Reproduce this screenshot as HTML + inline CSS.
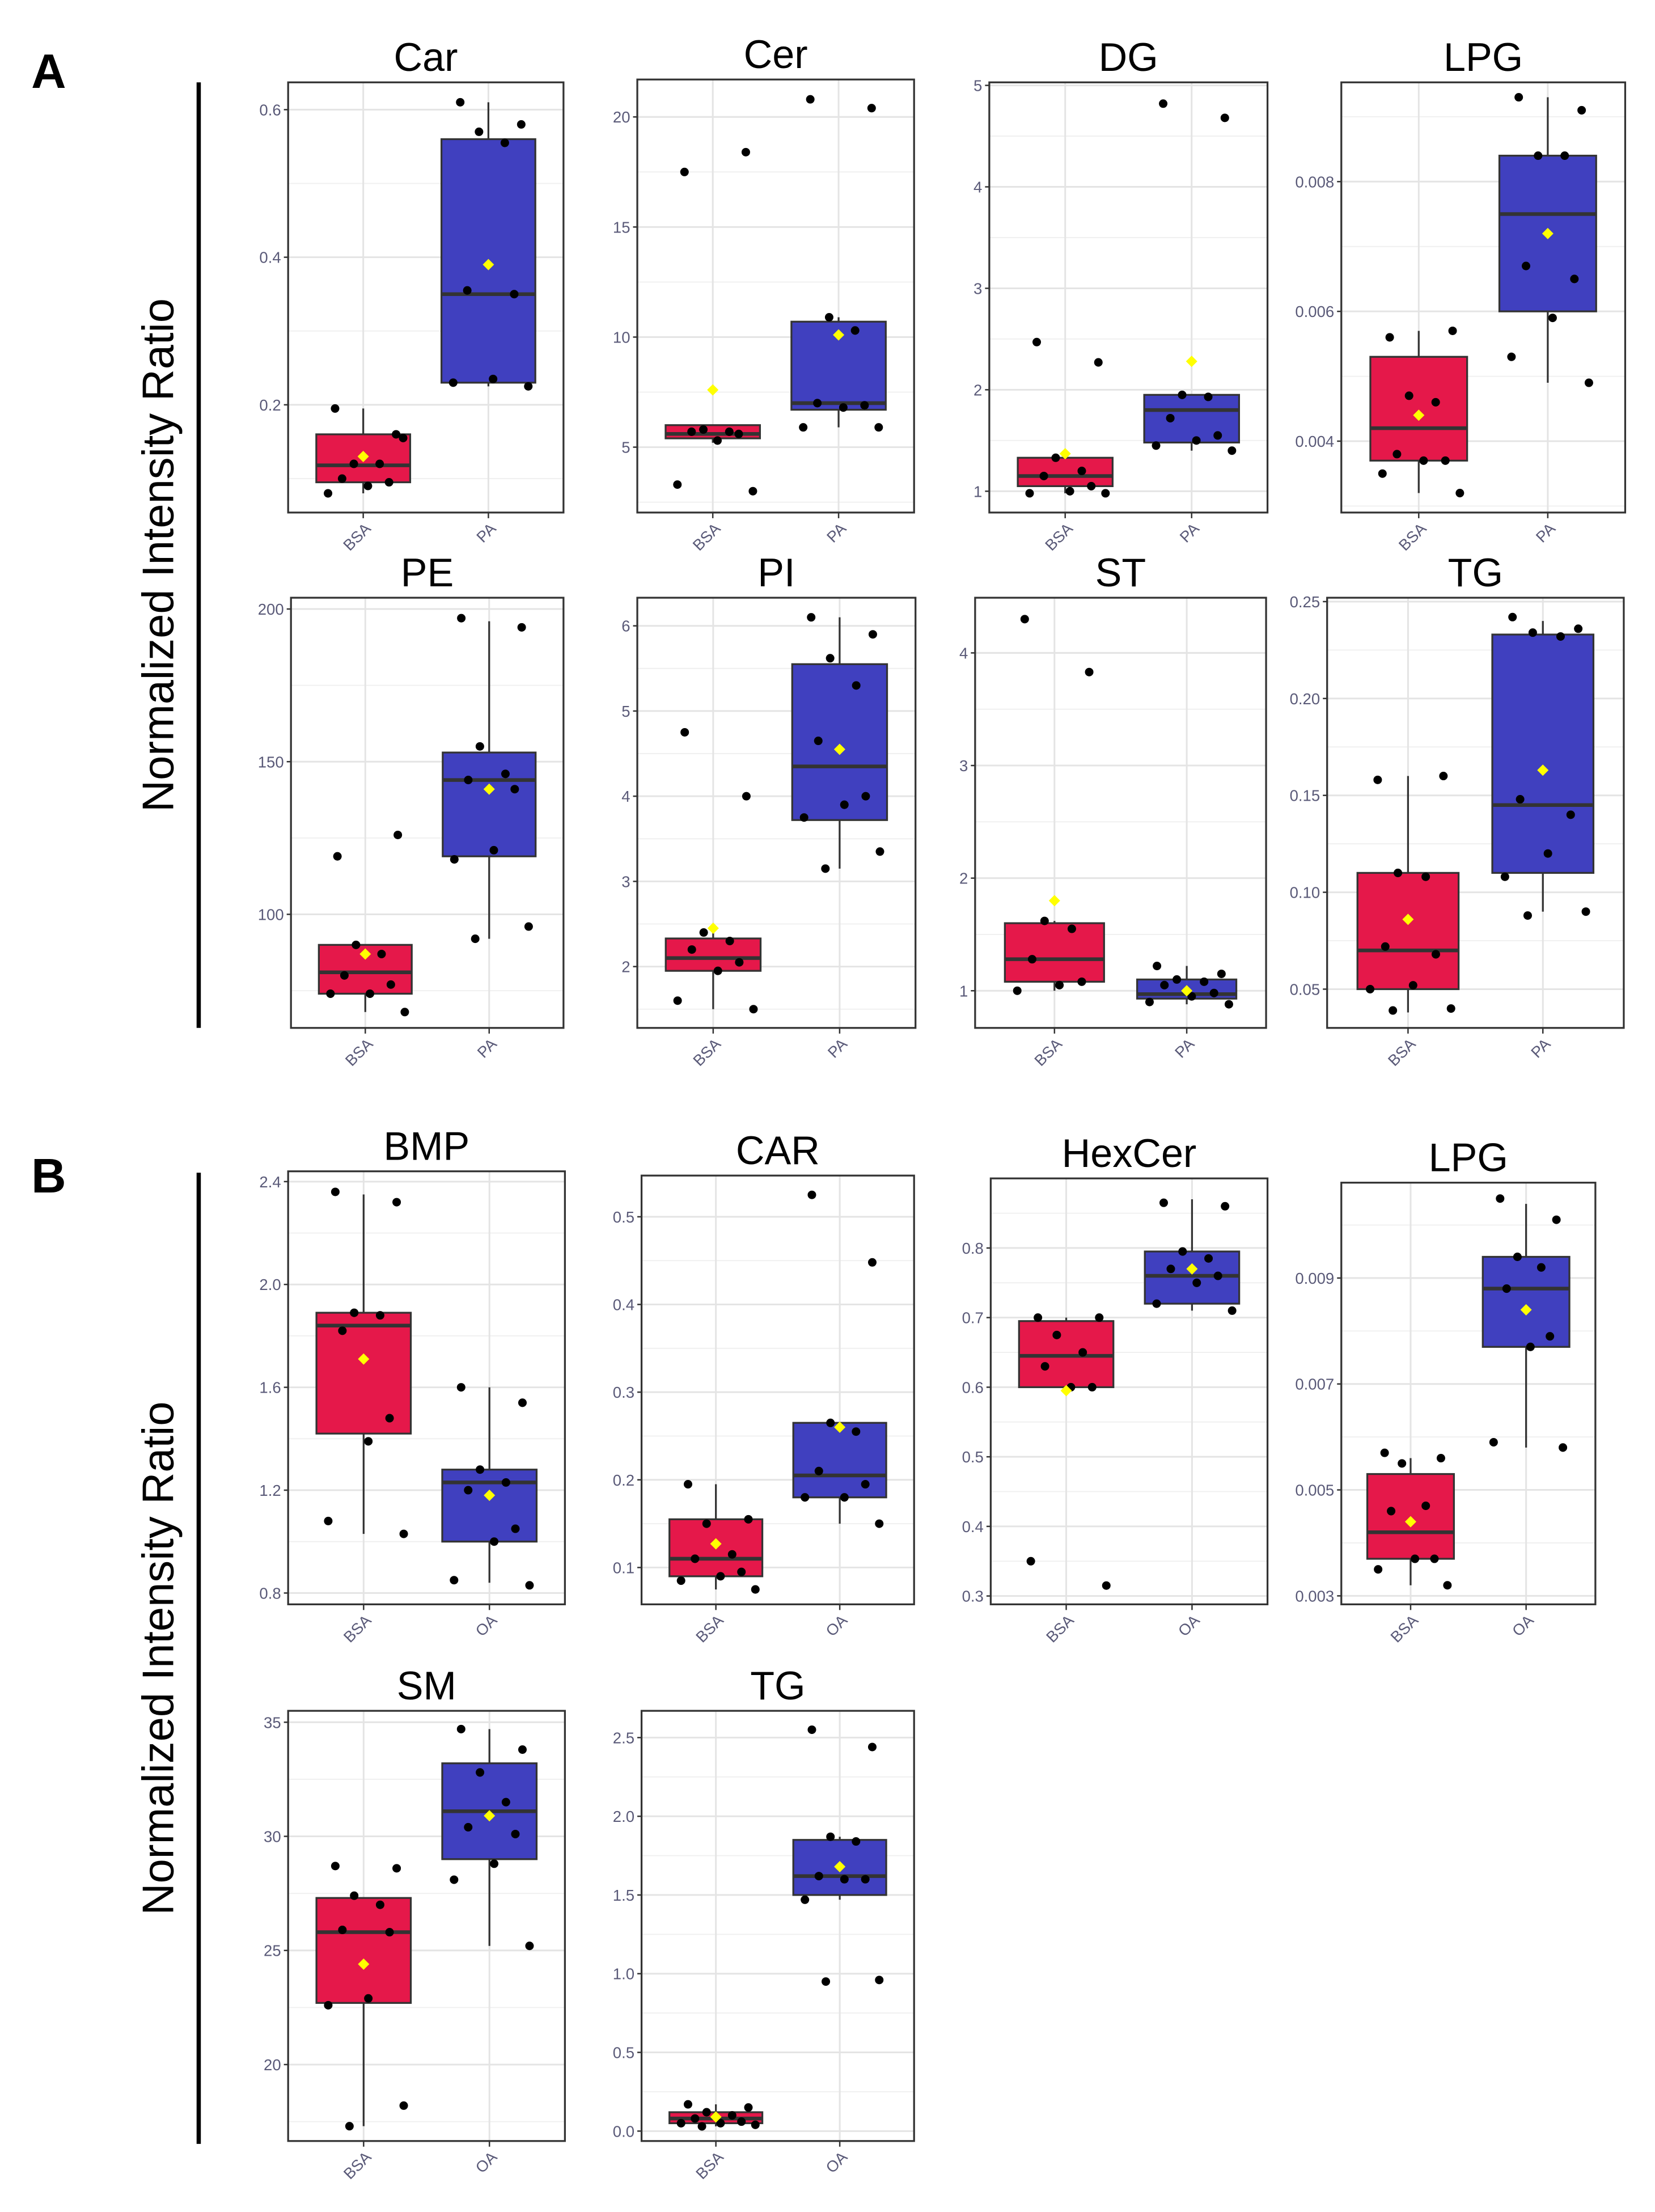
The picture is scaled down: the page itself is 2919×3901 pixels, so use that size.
<!DOCTYPE html>
<html><head><meta charset="utf-8"><style>
html,body{margin:0;padding:0;background:#fff;}
svg{display:block;font-family:"Liberation Sans",Arial,sans-serif;}
</style></head><body>
<svg id="fig" width="2919" height="3901" viewBox="0 0 1166 1558" preserveAspectRatio="none" xmlns="http://www.w3.org/2000/svg">
<rect x="0" y="0" width="1166" height="1558" fill="#fff"/>
<text x="22" y="62" font-size="34" font-weight="bold">A</text>
<text x="22" y="840" font-size="34" font-weight="bold">B</text>
<line x1="140" y1="58" x2="140" y2="724" stroke="#000" stroke-width="3"/>
<line x1="140" y1="826" x2="140" y2="1510" stroke="#000" stroke-width="3"/>
<text transform="translate(122,391) rotate(-90)" text-anchor="middle" font-size="31">Normalized Intensity Ratio</text>
<text transform="translate(122,1168) rotate(-90)" text-anchor="middle" font-size="31">Normalized Intensity Ratio</text>
<g id="plots"></g>
</svg>
<script>
// ---- data ----
const titles = ["Car","Cer","DG","LPG","PE","PI","ST","TG","BMP","CAR","HexCer","LPG","SM","TG"];
const groupsA = ["BSA","PA"];
const groupsB = ["BSA","OA"];
const yDomains = [[0.054,0.637],[2.03,21.7],[0.79,5.03],[0.0029,0.00953],[62.8,203.7],[1.28,6.33],[0.67,4.49],[0.03,0.252],
  [0.756,2.44],[0.058,0.547],[0.288,0.9],[0.00284,0.0108],[16.65,35.5],[-0.063,2.67]];
const yTicks = [[0.2,0.4,0.6],[5,10,15,20],[1,2,3,4,5],[0.004,0.006,0.008],[100,150,200],[2,3,4,5,6],[1,2,3,4],[0.05,0.10,0.15,0.20,0.25],
  [0.8,1.2,1.6,2.0,2.4],[0.1,0.2,0.3,0.4,0.5],[0.3,0.4,0.5,0.6,0.7,0.8],[0.003,0.005,0.007,0.009],[20,25,30,35],[0,0.5,1,1.5,2,2.5]];
const tickLabels = [["0.2","0.4","0.6"],["5","10","15","20"],["1","2","3","4","5"],["0.004","0.006","0.008"],["100","150","200"],["2","3","4","5","6"],["1","2","3","4"],["0.05","0.10","0.15","0.20","0.25"],
  ["0.8","1.2","1.6","2.0","2.4"],["0.1","0.2","0.3","0.4","0.5"],["0.3","0.4","0.5","0.6","0.7","0.8"],["0.003","0.005","0.007","0.009"],["20","25","30","35"],["0.0","0.5","1.0","1.5","2.0","2.5"]];
// box stats: [lo, q1, median, q3, hi]
const boxCtrl = [[0.08,0.095,0.118,0.16,0.195],[5.2,5.4,5.6,6.0,6.0],[0.98,1.05,1.15,1.33,1.35],[0.0032,0.0037,0.0042,0.0053,0.0057],
  [68,74,81,90,90],[1.5,1.95,2.1,2.33,2.4],[1.0,1.08,1.28,1.6,1.62],[0.038,0.05,0.07,0.11,0.16],
  [1.03,1.42,1.84,1.89,2.35],[0.075,0.09,0.11,0.155,0.195],[0.6,0.6,0.645,0.695,0.7],[0.0032,0.0037,0.0042,0.0053,0.0056],
  [17.3,22.7,25.8,27.3,27.3],[0.03,0.05,0.08,0.12,0.17]];
const boxTreat = [[0.225,0.23,0.35,0.56,0.61],[5.9,6.7,7.0,10.7,10.9],[1.4,1.48,1.8,1.95,1.95],[0.0049,0.006,0.0075,0.0084,0.0093],
  [92,119,144,153,196],[3.15,3.72,4.35,5.55,6.1],[0.88,0.93,0.97,1.1,1.22],[0.09,0.11,0.145,0.233,0.24],
  [0.84,1.0,1.23,1.28,1.6],[0.15,0.18,0.205,0.265,0.265],[0.71,0.72,0.76,0.795,0.87],[0.0058,0.0077,0.0088,0.0094,0.0104],
  [25.2,29.0,31.1,33.2,34.7],[1.47,1.5,1.62,1.85,1.87]];
const meanCtrl = [0.13,7.6,1.37,0.0044,87,2.45,1.8,0.086,1.71,0.127,0.595,0.0044,24.4,0.09];
const meanTreat = [0.39,10.1,2.28,0.0072,141,4.55,1.0,0.163,1.18,0.26,0.77,0.0084,30.9,1.68];
const ptsCtrl = [[0.195,0.16,0.12,0.12,0.1,0.095,0.09,0.08,0.155],[17.5,18.4,5.8,5.7,5.7,5.6,5.3,3.3,3.0],[2.47,2.27,1.33,1.2,1.15,1.05,1.0,0.98,0.98],
  [0.0056,0.0057,0.0047,0.0046,0.0038,0.0037,0.0037,0.0035,0.0032],[119,126,90,87,80,77,74,74,68],[4.75,4.0,2.4,2.3,2.2,2.05,1.95,1.6,1.5],
  [4.3,3.83,1.62,1.55,1.28,1.08,1.05,1.0],[0.158,0.16,0.11,0.108,0.072,0.068,0.052,0.05,0.04,0.039],
  [2.36,2.32,1.89,1.88,1.82,1.48,1.39,1.08,1.03],[0.195,0.155,0.15,0.115,0.11,0.095,0.09,0.085,0.075],[0.70,0.70,0.675,0.65,0.63,0.6,0.6,0.35,0.315],
  [0.0057,0.0056,0.0055,0.0047,0.0046,0.0037,0.0037,0.0035,0.0032],[28.7,28.6,27.4,27.0,25.9,25.8,22.9,22.6,18.2,17.3],[0.17,0.15,0.12,0.1,0.08,0.06,0.05,0.05,0.04,0.03]];
const ptsTreat = [[0.61,0.58,0.57,0.555,0.355,0.35,0.235,0.23,0.225],[20.8,20.4,10.9,10.3,7.0,6.9,6.8,5.9,5.9],[4.82,4.68,1.95,1.93,1.72,1.55,1.5,1.45,1.4],
  [0.0093,0.0091,0.0084,0.0084,0.0067,0.0065,0.0059,0.0053,0.0049],[197,194,155,146,144,141,121,118,96,92],[6.1,5.9,5.62,5.3,4.65,4.0,3.9,3.75,3.35,3.15],
  [1.22,1.15,1.1,1.08,1.05,0.98,0.95,0.9,0.88],[0.242,0.236,0.234,0.232,0.148,0.14,0.12,0.108,0.09,0.088],
  [1.6,1.54,1.28,1.23,1.2,1.05,1.0,0.85,0.83],[0.525,0.448,0.265,0.255,0.21,0.195,0.18,0.18,0.15],[0.865,0.86,0.795,0.785,0.77,0.76,0.75,0.72,0.71],
  [0.0105,0.0101,0.0094,0.0092,0.0088,0.0079,0.0077,0.0059,0.0058],[34.7,33.8,32.8,31.5,30.4,30.1,28.8,28.1,25.2],[2.55,2.44,1.87,1.84,1.62,1.6,1.6,1.47,0.96,0.95]];

// ---- layout (pixel positions, not data) ----
const rects = [[203,58,397,361],[449,56,644,361],[697,58,893,361],[945,58,1145,361],
  [205,421,397,724],[449,421,645,724],[687,421,892,724],[935,421,1144,724],
  [203,825,398,1130],[452,828,644,1130],[698,830,893,1130],[945,833,1124,1130],
  [203,1205,398,1508],[452,1205,644,1508]];
const jit = [-0.6,0.7,-0.2,0.35,-0.45,0.55,0.1,-0.75,0.85,-0.3];
const NS="http://www.w3.org/2000/svg";
const root=document.getElementById('plots');
function mk(tag,attrs,parent){const e=document.createElementNS(NS,tag);for(const k in attrs)e.setAttribute(k,attrs[k]);(parent||root).appendChild(e);return e;}

titles.forEach((t,i)=>{
  const [x0,y0,x1,y1]=rects[i];
  const g=mk('g',{});
  
  
  const [d0,d1]=yDomains[i];
  const Y=v=>y1-(v-d0)/(d1-d0)*(y1-y0);
  const W=x1-x0;
  const X=c=>x0+(c+1-0.4)/2.2*W;
  const bw=0.75/2.2*W;
  const groups=i<8?groupsA:groupsB;
  // grid
  const tk=yTicks[i];
  const step=tk[1]-tk[0];
  for(let k=-1;k<tk.length;k++){const m=tk[0]+step*(k+0.5);if(m>d0&&m<d1)mk('line',{x1:x0,x2:x1,y1:Y(m),y2:Y(m),stroke:'#f0f0f0','stroke-width':0.8},g);}
  tk.forEach((v,k)=>{
    mk('line',{x1:x0,x2:x1,y1:Y(v),y2:Y(v),stroke:'#e4e4e4','stroke-width':1.2},g);
    mk('line',{x1:x0-3,x2:x0,y1:Y(v),y2:Y(v),stroke:'#333','stroke-width':1},g);
    const tl=mk('text',{x:x0-5,y:Y(v)+4,'text-anchor':'end','font-size':11,fill:'#5a5a78'},g);
    tl.textContent=tickLabels[i][k];
    
    
  });
  [0,1].forEach(c=>{
    mk('line',{x1:X(c),x2:X(c),y1:y0,y2:y1,stroke:'#e4e4e4','stroke-width':1.2},g);
    mk('line',{x1:X(c),x2:X(c),y1:y1,y2:y1+4,stroke:'#333','stroke-width':1},g);
    const xl=mk('text',{transform:`translate(${X(c)+6},${y1+12}) rotate(-45)`,'text-anchor':'end','font-size':11,fill:'#5a5a78'},g);
    xl.textContent=groups[c];
    
    
  });
  // boxes
  [[boxCtrl[i],'#e5184a',meanCtrl[i],ptsCtrl[i]],[boxTreat[i],'#4040bf',meanTreat[i],ptsTreat[i]]].forEach(([b,col,mn,pts],c)=>{
    const cx=X(c);
    mk('line',{x1:cx,x2:cx,y1:Y(b[0]),y2:Y(b[4]),stroke:'#333','stroke-width':1.3},g);
    const r=mk('rect',{x:cx-bw/2,y:Y(b[3]),width:bw,height:Math.max(1,Y(b[1])-Y(b[3])),fill:col,stroke:'#333','stroke-width':1.3},g);
    
    
    mk('line',{x1:cx-bw/2,x2:cx+bw/2,y1:Y(b[2]),y2:Y(b[2]),stroke:'#333','stroke-width':2.6},g);
    pts.forEach((v,k)=>{
      const p=mk('circle',{cx:cx+jit[k%jit.length]*bw/2,cy:Y(v),r:3,fill:'#000'},g);
      
      
    });
    const my=Y(mn);
    const dm=mk('polygon',{points:`${cx},${my-4} ${cx+4},${my} ${cx},${my+4} ${cx-4},${my}`,fill:'#ffff00'},g);
    
    
  });
  mk('rect',{x:x0,y:y0,width:W,height:y1-y0,fill:'none',stroke:'#333','stroke-width':1.3},g);
  const tt=mk('text',{x:(x0+x1)/2,y:y0-8,'text-anchor':'middle','font-size':28,fill:'#000'},g);
  tt.textContent=t;
  
  
});
</script>
</body></html>
